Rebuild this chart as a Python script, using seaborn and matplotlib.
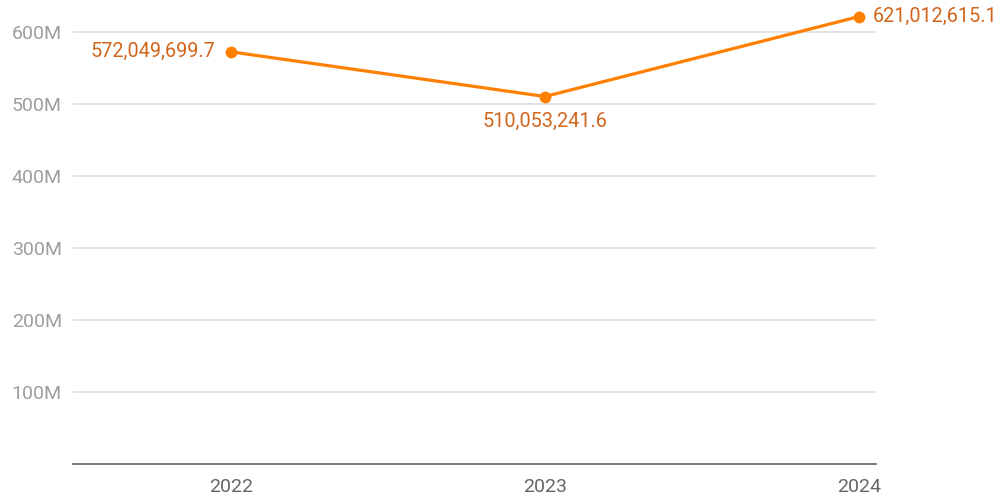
import numpy as np
import pandas as pd
import matplotlib.pyplot as plt
import seaborn as sns

# data
years = [2022, 2023, 2024]
values = [572049699.7, 510053241.6, 621012615.1]
labels = ["572,049,699.7", "510,053,241.6", "621,012,615.1"]
yticks = [100e6, 200e6, 300e6, 400e6, 500e6, 600e6]
ytick_labels = ["100M", "200M", "300M", "400M", "500M", "600M"]

df = pd.DataFrame({"year": years, "value": values})

sns.set_style("white")
plt.rcParams["font.family"] = ["Roboto", "DejaVu Sans"]

fig = plt.figure(figsize=(10.01, 4.95), dpi=100)
ax = fig.add_axes([73 / 1001, 1 - 464 / 495, (876 - 73) / 1001, 464 / 495])

line_color = "#ff8000"
label_color = "#d2651c"

sns.lineplot(data=df, x="year", y="value", ax=ax, color=line_color,
             linewidth=2.3, marker="o", markersize=8.5, markeredgewidth=0,
             zorder=3)

ax.set_xlim(2021.497, 2024.054)
ax.set_ylim(0, 644e6)
ax.set_xticks(years)
ax.set_xticklabels([str(y) for y in years])
ax.set_yticks(yticks)
ax.set_yticklabels(ytick_labels)
ax.set_xlabel("")
ax.set_ylabel("")

ax.grid(axis="y", color="#e3e3e3", linewidth=1.4)
ax.grid(axis="x", visible=False)
for s in ["top", "right", "left"]:
    ax.spines[s].set_visible(False)
ax.spines["bottom"].set_color("#5f5f5f")
ax.spines["bottom"].set_linewidth(1.2)

ax.tick_params(axis="y", length=0, pad=8, labelsize=14, labelcolor="#9e9e9e")
ax.tick_params(axis="x", length=0, pad=10, labelsize=14, labelcolor="#666666")

# data labels
offsets = [((-11, 0), "right", "center"),
           ((0, -18), "center", "center"),
           ((10, 0), "left", "center")]
for x, y, t, (off, ha, va) in zip(years, values, labels, offsets):
    ax.annotate(t, (x, y), xytext=off, textcoords="offset points",
                ha=ha, va=va, fontsize=14.3, color=label_color,
                annotation_clip=False)

fig.savefig("out.png", dpi=100)
